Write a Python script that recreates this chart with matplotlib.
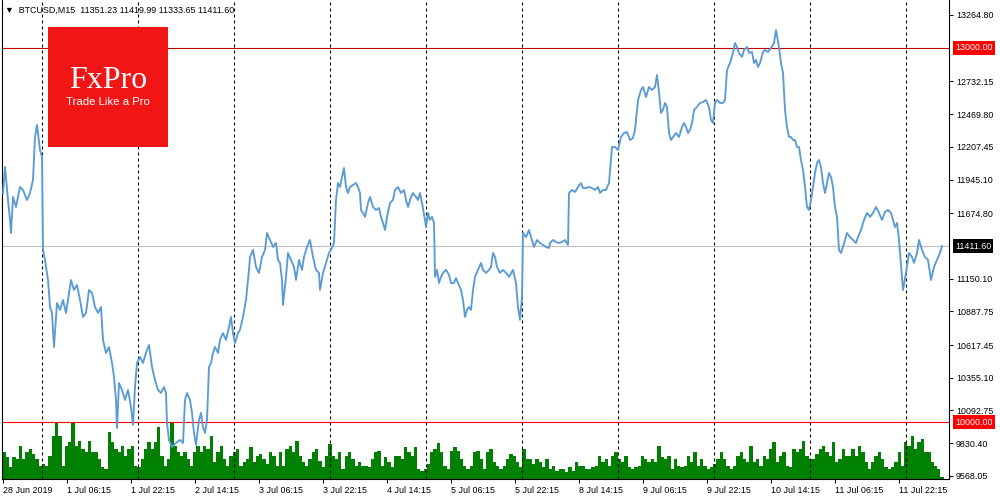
import matplotlib
matplotlib.use('Agg')
import matplotlib.pyplot as plt
import numpy as np
from matplotlib.patches import Rectangle

plt.rcParams['font.family'] = ['Liberation Sans', 'DejaVu Sans']

# M15 bar number on screen and the close price of that bar
bars = [3, 5, 8, 10, 11, 13, 16, 20, 23, 27,
        30, 33, 35, 37, 38, 40, 42, 43, 45, 48,
        50, 52, 54, 57, 60, 63, 66, 69, 71, 74,
        77, 80, 83, 86, 89, 92, 95, 98, 101, 103,
        106, 109, 112, 114, 116, 117, 119, 122, 125, 128,
        131, 133, 135, 137, 140, 143, 146, 149, 152, 155,
        158, 161, 164, 166, 167, 169, 172, 176, 180, 183,
        185, 187, 190, 192, 194, 196, 199, 201, 203, 205,
        207, 209, 211, 213, 215, 218, 220, 223, 226, 229,
        231, 233, 235, 238, 240, 243, 246, 249, 250, 253,
        256, 259, 262, 265, 267, 270, 273, 276, 278, 280,
        282, 283, 286, 288, 291, 294, 296, 299, 302, 304,
        307, 310, 313, 316, 319, 320, 323, 326, 329, 331,
        334, 336, 338, 340, 342, 344, 346, 348, 350, 353,
        356, 358, 360, 361, 363, 365, 368, 370, 373, 376,
        379, 381, 383, 385, 387, 390, 393, 395, 398, 401,
        404, 406, 408, 411, 413, 416, 418, 420, 422, 425,
        426, 428, 430, 432, 434, 435, 437, 439, 441, 443,
        446, 449, 451, 454, 456, 458, 461, 463, 465, 467,
        469, 471, 473, 475, 478, 481, 483, 486, 489, 491,
        493, 495, 497, 500, 503, 506, 509, 513, 516, 518,
        520, 522, 523, 526, 529, 531, 534, 537, 540, 543,
        546, 549, 550, 553, 556, 559, 562, 565, 568, 569,
        572, 575, 578, 581, 583, 586, 589, 592, 595, 598,
        600, 603, 606, 609, 612, 615, 618, 621, 624, 627,
        630, 633, 635, 638, 641, 643, 646, 649, 652, 655,
        657, 659, 661, 663, 665, 667, 669, 671, 673, 676,
        679, 682, 684, 686, 688, 690, 692, 694, 697, 700,
        703, 706, 709, 711, 713, 715, 717, 720, 723, 725,
        727, 730, 733, 735, 737, 739, 742, 744, 747, 749,
        752, 754, 756, 758, 760, 763, 765, 768, 771, 774,
        776, 779, 781, 783, 785, 787, 789, 791, 793, 795,
        797, 799, 801, 803, 805, 807, 809, 811, 813, 815,
        817, 819, 821, 823, 825, 827, 829, 831, 833, 835,
        837, 839, 841, 843, 845, 847, 850, 853, 856, 858,
        861, 864, 867, 870, 873, 876, 879, 882, 885, 888,
        891, 893, 895, 897, 899, 903, 906, 909, 912, 914,
        917, 919, 922, 925, 928, 931, 934, 937, 940, 942]

close = [11837, 12046, 11781, 11621, 11516, 11805, 11725, 11885, 11861, 11781,
         11837, 11941, 12286, 12383, 12318, 12182, 12126, 11380, 11300, 11139,
         10923, 10875, 10602, 10955, 10899, 10979, 10875, 11035, 11139, 11059,
         11099, 10979, 10843, 10875, 11059, 11035, 10923, 10875, 10923, 10658,
         10554, 10602, 10474, 10361, 10177, 9952, 10313, 10257, 10177, 10257,
         10121, 9977, 10281, 10474, 10522, 10474, 10554, 10618, 10442, 10337,
         10257, 10233, 10281, 10233, 9993, 9856, 9800, 9832, 9856, 9832,
         10177, 10233, 10177, 10073, 9912, 9816, 10017, 10073, 9960, 9912,
         10017, 10442, 10474, 10554, 10602, 10554, 10658, 10714, 10658, 10763,
         10843, 10714, 10634, 10714, 10739, 10843, 10979, 11220, 11324, 11380,
         11244, 11196, 11324, 11380, 11516, 11460, 11404, 11436, 11300, 11276,
         11139, 10939, 11164, 11356, 11300, 11244, 11139, 11300, 11220, 11324,
         11404, 11460, 11324, 11220, 11196, 11059, 11196, 11276, 11356, 11380,
         11436, 11781, 11917, 11885, 11965, 12038, 11885, 11837, 11885, 11901,
         11917, 11885, 11837, 11701, 11677, 11645, 11757, 11805, 11725, 11701,
         11717, 11645, 11597, 11540, 11645, 11757, 11781, 11861, 11885, 11837,
         11861, 11781, 11725, 11805, 11837, 11805, 11781, 11837, 11757, 11621,
         11564, 11677, 11621, 11645, 11597, 11164, 11220, 11115, 11164, 11196,
         11220, 11180, 11115, 11115, 11155, 11115, 11059, 10979, 10843, 10899,
         10923, 10899, 11059, 11164, 11220, 11276, 11220, 11196, 11220, 11244,
         11356, 11324, 11244, 11196, 11220, 11196, 11164, 11220, 11115, 10923,
         10819, 11003, 11516, 11484, 11540, 11484, 11404, 11460, 11436, 11420,
         11404, 11396, 11436, 11460, 11444, 11436, 11444, 11460, 11420, 11837,
         11861, 11845, 11885, 11917, 11877, 11877, 11885, 11877, 11861, 11885,
         11837, 11861, 11861, 11917, 12206, 12206, 12182, 12286, 12318, 12326,
         12262, 12278, 12342, 12583, 12663, 12687, 12607, 12687, 12663, 12687,
         12784, 12647, 12479, 12503, 12559, 12527, 12318, 12262, 12286, 12318,
         12286, 12366, 12398, 12366, 12318, 12342, 12398, 12503, 12527, 12559,
         12567, 12583, 12527, 12423, 12398, 12559, 12583, 12559, 12559, 12583,
         12824, 12880, 12960, 13040, 13008, 12960, 12928, 12984, 13008, 12960,
         12968, 12880, 12904, 12848, 12880, 12968, 12984, 12968, 13000, 13040,
         13144, 13008, 12880, 12800, 12503, 12366, 12286, 12286, 12262, 12262,
         12206, 12206, 12102, 12022, 11885, 11725, 11701, 11781, 11885, 11997,
         12078, 12102, 12046, 11917, 11837, 11917, 11997, 11965, 11885, 11725,
         11645, 11380, 11356, 11404, 11460, 11516, 11484, 11460, 11436, 11484,
         11540, 11621, 11677, 11645, 11677, 11725, 11677, 11621, 11685, 11701,
         11677, 11621, 11564, 11597, 11460, 11059, 11196, 11356, 11324, 11276,
         11356, 11460, 11380, 11324, 11300, 11139, 11244, 11300, 11356, 11412]

# tick volume, sampled along the whole window
volume = [27, 22, 12, 22, 20, 33, 20, 27, 30, 25, 20, 13, 15, 13, 23, 43, 56, 43, 13, 33,
          37, 56, 33, 38, 30, 27, 38, 27, 27, 20, 12, 10, 47, 37, 30, 27, 33, 23, 30, 33,
          13, 12, 20, 30, 37, 30, 37, 52, 23, 13, 20, 56, 33, 27, 23, 27, 20, 13, 27, 33,
          27, 33, 30, 43, 17, 27, 33, 20, 13, 23, 27, 30, 13, 17, 20, 32, 17, 23, 25, 20,
          15, 27, 23, 13, 27, 13, 30, 33, 27, 38, 23, 17, 13, 20, 27, 30, 18, 12, 23, 35, 23,
          20, 27, 10, 23, 27, 20, 13, 17, 13, 13, 12, 20, 27, 28, 13, 22, 17, 12, 23, 23,
          20, 32, 27, 23, 32, 10, 8, 10, 15, 27, 30, 36, 27, 13, 10, 28, 32, 28, 20, 13,
          10, 13, 27, 28, 20, 10, 27, 30, 17, 13, 10, 13, 20, 25, 23, 17, 12, 30, 20, 20,
          15, 20, 17, 12, 20, 10, 13, 8, 10, 10, 7, 12, 8, 17, 13, 13, 10, 10, 12, 13,
          23, 17, 20, 13, 23, 27, 20, 17, 23, 12, 10, 12, 13, 23, 20, 17, 20, 17, 33,
          22, 20, 23, 10, 20, 13, 12, 13, 23, 17, 27, 13, 20, 13, 10, 12, 15, 20, 27, 20,
          13, 10, 13, 23, 27, 20, 17, 33, 17, 20, 13, 23, 20, 30, 37, 17, 23, 27, 13, 12,
          30, 27, 30, 38, 23, 20, 20, 25, 30, 33, 27, 23, 37, 17, 20, 30, 23, 23, 30, 23,
          33, 27, 17, 10, 17, 23, 27, 20, 12, 10, 12, 17, 27, 13, 37, 33, 43, 30, 37, 40,
          27, 27, 17, 13, 10, 2]

time_ticks = [3, 67, 131, 195, 259, 323, 387, 451, 515, 579, 643, 707, 771, 835, 899]
time_labels = ['28 Jun 2019', '1 Jul 06:15', '1 Jul 22:15', '2 Jul 14:15', '3 Jul 06:15',
               '3 Jul 22:15', '4 Jul 14:15', '5 Jul 06:15', '5 Jul 22:15', '8 Jul 14:15',
               '9 Jul 06:15', '9 Jul 22:15', '10 Jul 14:15', '11 Jul 06:15', '11 Jul 22:15']
day_breaks = [42, 138, 234, 330, 426, 522, 618, 714, 810, 906]
price_ticks = [13264.80, 12732.15, 12469.80, 12207.45, 11945.10, 11674.80, 11150.10,
               10887.75, 10617.45, 10355.10, 10092.75, 9830.40, 9568.05]
levels = [13000.00, 10000.00]
last_price = 11411.60
ohlc = [11351.23, 11419.99, 11333.65, 11411.60]

W, H = 1000, 500
fig = plt.figure(figsize=(10, 5), dpi=100)
fig.patch.set_facecolor('white')
rect = [2 / W, 21 / H, 947 / W, 479 / H]

# volumes in their own layer under the price chart
vax = fig.add_axes(rect)
vol_x = np.linspace(4, 942, len(volume))
vax.bar(vol_x, volume, width=3.4, color='#008000', linewidth=0)
vax.set_xlim(2, 949)
vax.set_ylim(0, 476)
vax.axis('off')

ax = fig.add_axes(rect)
ax.patch.set_alpha(0)
ax.set_xlim(2, 949)
ax.set_ylim(9543, 13385)

for xb in day_breaks:
    ax.axvline(xb, color='black', lw=0.8, ls=(0, (2.7, 2.7)), zorder=1)

ax.axhline(levels[0], color='#c00000', lw=0.8, zorder=2)
ax.axhline(levels[1], color='#ff0000', lw=0.8, zorder=2)
ax.axhline(last_price, color='#c0c0c0', lw=0.8, zorder=2)

ax.plot(bars, close, color='#5b9bd5', lw=1.35, zorder=3)

for s in ['left', 'right', 'bottom']:
    ax.spines[s].set_color('black')
    ax.spines[s].set_linewidth(0.8)
ax.spines['top'].set_visible(False)

ax.yaxis.tick_right()
ax.set_yticks(price_ticks, labels=[f'{v:.2f}' for v in price_ticks])
ax.tick_params(axis='y', length=3, width=0.7, pad=2, labelsize=6.4, colors='black')
ax.set_xticks(time_ticks, labels=time_labels)
ax.tick_params(axis='x', length=3, width=0.7, pad=2, labelsize=6.4, colors='black')
for lbl in ax.get_xticklabels():
    lbl.set_horizontalalignment('left')

tag_style = dict(xycoords=ax.get_yaxis_transform(), xytext=(4.2, 0), textcoords='offset points',
                 ha='left', va='center', fontsize=6.4, color='white')
ax.annotate(f'{levels[0]:.2f}', xy=(1, levels[0]),
            bbox=dict(boxstyle='square,pad=0.25', fc='#ff0000', ec='none'), **tag_style)
ax.annotate(f'{levels[1]:.2f}', xy=(1, levels[1]),
            bbox=dict(boxstyle='square,pad=0.25', fc='#ff0000', ec='none'), **tag_style)
ax.annotate(f'{last_price:.2f}', xy=(1, last_price),
            bbox=dict(boxstyle='square,pad=0.25', fc='black', ec='none'), **tag_style)

header = '\u25bc  BTCUSD,M15  ' + ' '.join(f'{v:.2f}' for v in ohlc)
fig.text(5 / W, 1 - 10 / H, header, fontsize=6.4, va='center', ha='left', color='black')

# FxPro logo
fig.add_artist(Rectangle((48 / W, 1 - 147 / H), 120 / W, 120 / H,
                         transform=fig.transFigure, facecolor='#f11515', edgecolor='none', zorder=5))
fig.text(108 / W, 1 - 81 / H, 'FxPro', family='Liberation Serif', fontsize=23,
         color='white', ha='center', va='center', zorder=6)
fig.text(108 / W, 1 - 102 / H, 'Trade Like a Pro', fontsize=8.2,
         color='white', ha='center', va='center', zorder=6)

fig.savefig('out.png', dpi=100)
